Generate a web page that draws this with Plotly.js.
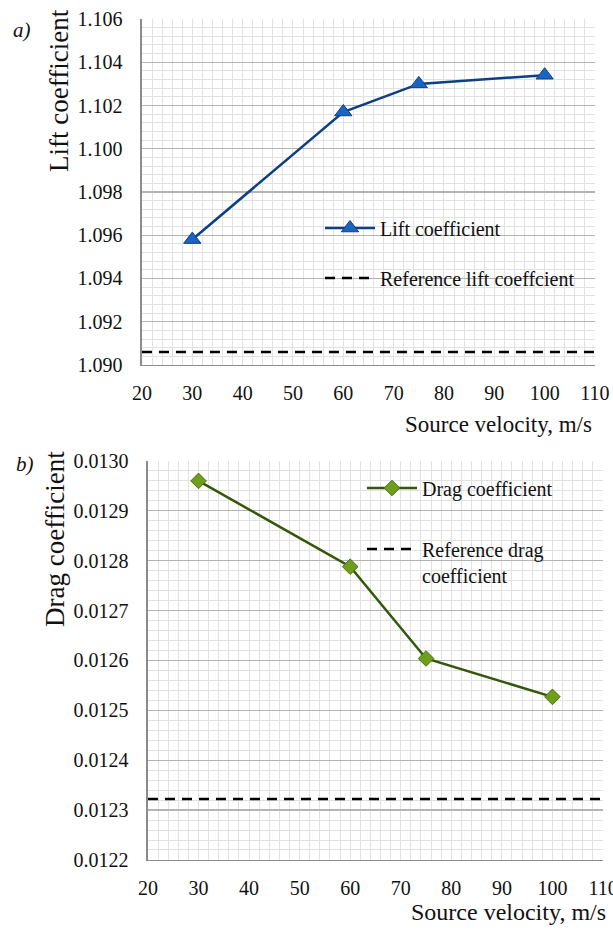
<!DOCTYPE html>
<html><head><meta charset="utf-8">
<script src="https://cdn.plot.ly/plotly-3.0.1.min.js"></script>
<style>html,body{margin:0;padding:0;background:#fff}#c{width:613px;height:932px}</style>
</head><body><div id="c"></div>
<script>
// Data
const velocity = [30, 60, 75, 100];
const liftCoef = [1.0958, 1.1017, 1.1030, 1.1034];
const refLiftX = [20, 110];
const refLift = [1.0906, 1.0906];
const dragCoef = [0.012960, 0.012788, 0.012604, 0.012527];
const refDragX = [20, 110];
const refDrag = [0.012322, 0.012322];
const xTicks = [20, 30, 40, 50, 60, 70, 80, 90, 100, 110];

const F = "Liberation Serif";
const majorGrid = "#b4b4b4", minorGrid = "#e2e2e2", axisCol = "#8c8c8c";

const traces = [
  {x: velocity, y: liftCoef, xaxis: 'x', yaxis: 'y', name: 'Lift coefficient', mode: 'lines+markers',
   line: {color: '#0d3f85', width: 2.5}, marker: {symbol: 'triangle-up', size: 15, color: '#1a64c4', line: {color: '#0d3f85', width: 1}}, legend: 'legend'},
  {x: refLiftX, y: refLift, xaxis: 'x', yaxis: 'y', name: 'Reference lift coeffcient', mode: 'lines',
   line: {color: '#000', width: 2.5, dash: '10px,7px'}, legend: 'legend2'},
  {x: velocity, y: dragCoef, xaxis: 'x2', yaxis: 'y2', name: 'Drag coefficient', mode: 'lines+markers',
   line: {color: '#36560a', width: 2.5}, marker: {symbol: 'diamond', size: 12, color: '#6f9e1c', line: {color: '#4a700f', width: 1}}, legend: 'legend3'},
  {x: refDragX, y: refDrag, xaxis: 'x2', yaxis: 'y2', name: 'Reference drag<br>coefficient', mode: 'lines',
   line: {color: '#000', width: 2.5, dash: '10px,7px'}, legend: 'legend4'}
];

function xax(domain, anchor) {
  return {domain: domain, anchor: anchor, range: [20, 110], tickvals: xTicks, ticks: '', showgrid: true,
    gridcolor: minorGrid, gridwidth: 1, zeroline: false, showline: true, linecolor: axisCol, linewidth: 1.5, mirror: false,
    minor: {dtick: 2, showgrid: true, gridcolor: minorGrid, gridwidth: 1},
    tickfont: {family: F, size: 20, color: '#111'}, ticklabelstandoff: 10, ticklabeloverflow: 'allow', fixedrange: true};
}
function yax(domain, anchor, range, dtick, fmt, minorDt) {
  return {domain: domain, anchor: anchor, range: range, dtick: dtick, tick0: range[0], tickformat: fmt, ticks: '',
    showgrid: true, gridcolor: majorGrid, gridwidth: 1.2, zeroline: false, showline: true, linecolor: axisCol, linewidth: 1.5, mirror: false,
    minor: {dtick: minorDt, showgrid: true, gridcolor: minorGrid, gridwidth: 1},
    tickfont: {family: F, size: 20, color: '#111'}, ticklabelstandoff: 14, ticklabeloverflow: 'allow', fixedrange: true};
}

const legBase = {font: {family: F, size: 20, color: '#111'}, bgcolor: 'rgba(0,0,0,0)', borderwidth: 0,
  xanchor: 'left', yanchor: 'middle', itemwidth: 50, valign: 'top'};

const layout = {
  width: 613, height: 932, margin: {l: 0, r: 0, t: 0, b: 0},
  font: {family: F, color: '#111'},
  paper_bgcolor: '#fff', plot_bgcolor: '#fff', showlegend: true,
  xaxis: xax([0.2316, 0.9706], 'y'),
  yaxis: yax([0.6084, 0.9796], 'x', [1.090, 1.106], 0.002, '.3f', 0.0004),
  xaxis2: xax([0.2414, 0.9837], 'y2'),
  yaxis2: yax([0.0773, 0.5054], 'x2', [0.0122, 0.0130], 0.0001, '.4f', 0.00002),
  legend: Object.assign({}, legBase, {x: 320/613, y: 1 - 228/932}),
  legend2: Object.assign({}, legBase, {x: 320/613, y: 1 - 278/932}),
  legend3: Object.assign({}, legBase, {x: 362/613, y: 1 - 488/932}),
  legend4: Object.assign({}, legBase, {x: 362/613, y: 1 - 562/932}),
  annotations: [
    {text: '<i>a)</i>', xref: 'paper', yref: 'paper', x: 22/613, y: 1 - 30/932, xanchor: 'center', yanchor: 'middle', showarrow: false, font: {family: F, size: 21, color: '#111'}},
    {text: '<i>b)</i>', xref: 'paper', yref: 'paper', x: 25/613, y: 1 - 464/932, xanchor: 'center', yanchor: 'middle', showarrow: false, font: {family: F, size: 21, color: '#111'}},
    {text: 'Lift coefficient', xref: 'paper', yref: 'paper', x: 59/613, y: 1 - 91/932, xanchor: 'center', yanchor: 'middle', textangle: -90, showarrow: false, font: {family: F, size: 27, color: '#111'}},
    {text: 'Drag coefficient', xref: 'paper', yref: 'paper', x: 55/613, y: 1 - 539/932, xanchor: 'center', yanchor: 'middle', textangle: -90, showarrow: false, font: {family: F, size: 27, color: '#111'}},
    {text: 'Source velocity, m/s', xref: 'paper', yref: 'paper', x: 594/613, y: 1 - 425/932, xanchor: 'right', yanchor: 'middle', showarrow: false, font: {family: F, size: 23, color: '#111'}},
    {text: 'Source velocity, m/s', xref: 'paper', yref: 'paper', x: 608/613, y: 1 - 912/932, xanchor: 'right', yanchor: 'middle', showarrow: false, font: {family: F, size: 24, color: '#111'}}
  ]
};

Plotly.newPlot('c', traces, layout, {displayModeBar: false, staticPlot: true});
</script>
</body></html>
